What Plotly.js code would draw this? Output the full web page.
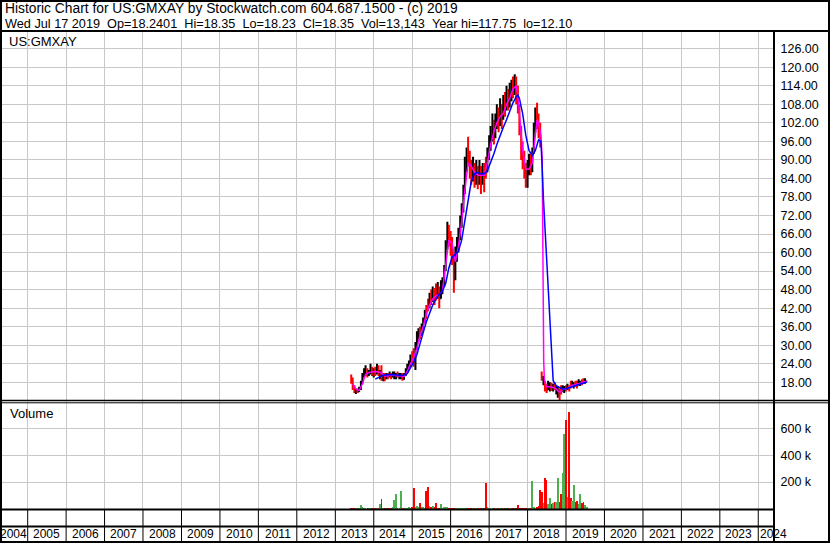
<!DOCTYPE html>
<html>
<head>
<meta charset="utf-8">
<script src="https://cdn.plot.ly/plotly-3.0.1.min.js"></script>
<style>
html,body{margin:0;padding:0;background:#fff;}
#chart{width:830px;height:543px;}
</style>
</head>
<body>
<div id="chart"></div>
<script>
// ---------------- DATA ----------------
const headerLine1 = "Historic Chart for US:GMXAY by Stockwatch.com 604.687.1500 - (c) 2019";
const headerLine2 = "Wed Jul 17 2019\u00a0\u00a0Op=18.2401\u00a0\u00a0Hi=18.35\u00a0\u00a0Lo=18.23\u00a0\u00a0Cl=18.35\u00a0\u00a0Vol=13,143\u00a0\u00a0Year hi=117.75\u00a0\u00a0lo=12.10";
const symbolLabel = "US:GMXAY";
const volumeLabel = "Volume";

const dates = [
 // 2013
 "2013-06-01","2013-06-15","2013-07-01","2013-07-15","2013-08-01","2013-08-15","2013-09-01","2013-09-15","2013-10-01","2013-10-15","2013-11-01","2013-11-15","2013-12-01","2013-12-15",
 // 2014
 "2014-01-01","2014-01-15","2014-02-01","2014-02-15","2014-03-01","2014-03-15","2014-04-01","2014-04-15","2014-05-01","2014-05-15","2014-06-01","2014-06-15","2014-07-01","2014-07-15","2014-08-01","2014-08-15","2014-09-01","2014-09-15","2014-10-01","2014-10-15","2014-11-01","2014-11-15","2014-12-01","2014-12-15",
 // 2015
 "2015-01-01","2015-01-15","2015-02-01","2015-02-15","2015-03-01","2015-03-15","2015-04-01","2015-04-15","2015-05-01","2015-05-15","2015-06-01","2015-06-15","2015-07-01","2015-07-15","2015-08-01","2015-08-15","2015-09-01","2015-09-15","2015-10-01","2015-10-15","2015-11-01","2015-11-15","2015-12-01","2015-12-15",
 // 2016
 "2016-01-01","2016-01-15","2016-02-01","2016-02-15","2016-03-01","2016-03-15","2016-04-01","2016-04-15","2016-05-01","2016-05-15","2016-06-01","2016-06-15","2016-07-01","2016-07-15","2016-08-01","2016-08-15","2016-09-01","2016-09-15","2016-10-01","2016-10-15","2016-11-01","2016-11-15","2016-12-01","2016-12-15",
 // 2017
 "2017-01-01","2017-01-15","2017-02-01","2017-02-15","2017-03-01","2017-03-15","2017-04-01","2017-04-15","2017-05-01","2017-05-15","2017-06-01","2017-06-15","2017-07-01","2017-07-15","2017-08-01","2017-08-15","2017-09-01","2017-09-15","2017-10-01","2017-10-15","2017-11-01","2017-11-15","2017-12-01","2017-12-15",
 // 2018
 "2018-01-01","2018-01-15","2018-02-01","2018-02-15","2018-03-01","2018-03-15","2018-04-01","2018-04-15","2018-05-01","2018-05-15","2018-06-01","2018-06-15","2018-07-01","2018-07-15","2018-08-01","2018-08-15","2018-09-01","2018-09-15","2018-10-01","2018-10-15","2018-11-01","2018-11-15","2018-12-01","2018-12-15",
 // 2019
 "2019-01-01","2019-01-15","2019-02-01","2019-02-15","2019-03-01","2019-03-15","2019-04-01","2019-04-15","2019-05-01","2019-05-15","2019-06-01","2019-06-15","2019-07-01","2019-07-17"
];
const opens = [
 19.5,18.5,16.5,15.3,15.5,15,16,18,20.5,21,22,20.5,21.5,22.5,
 21,21.5,21,23,21,21.5,19.5,20,19.5,20.5,20,20.5,20,19.8,20,20.5,20,19.5,20.2,19.5,20.5,22,23,24,
 26,25.5,24.5,29,32,35,33.5,36,38,41.5,44,42.5,45.5,44.5,47,48.5,47,48.5,45,49,50,55,62,66,
 64,61,58,52,59,63,66,70,74,80,88,91,90,87,86,88,84,87,84,87,83,87,88,86,
 92,96,99,102,98,103,105,102,107,104,108,107,111,108,112,114,113,116,111,107,101,94,90,87,
 84,88,90,87,92,100,105,102,99,21,18,18.5,16.5,15.5,16.5,17,16,16.8,15.5,14,15,15.8,15,15.5,
 16.5,15.8,16.8,17.5,17,16.5,17.8,17.5,17,17.2,18.3,18.8,17.9,18.24
];
const highs = [
 20.5,19.5,17,16,16,16.5,18.5,21,22.5,23.5,22.5,22,24,23,
 22.5,23,24,23.5,22,23.5,21,21,21,21,21.5,21,21.5,21.5,21,21.5,21,21,21,21,22.5,24,25,27,
 28,29,31,34.5,35.5,36,37,39,41.5,43,45,47,48,49,48.5,50,50.5,49,51,52,56,64,70,69,
 67,65,60,62,65,68,72,76,82,91,94,97.5,93,90,91,89,90,88,90,88,89,89,91,94,
 98,101,105,103,105,108,107,110,108,111,112,114,113,115,116,117,117.75,117,114,108,101,96,93,89,
 90,92,92,94,102,107,108.5,105,102,21.5,20,18.5,17.5,18.5,18,17.8,17.5,18,17,16.5,16,17,17,16.8,
 17,17.5,17,18.5,18.5,18,18.5,18.5,19,18.5,19,19.3,19.3,18.35
];
const lows = [
 17.5,15.5,14.5,14.2,14.5,14.8,15.5,17.5,19.5,20,19.5,20,20.5,20,
 19.5,20,20.5,20,19,18.5,18.3,18.3,19,19,19.5,19,19.5,19,19,19.5,19,19,18.5,18.8,20,21,22,23,
 24,23,22,28.5,31,32,33,35,37,38.5,41,42,43,44,43,44.5,45,42,45,46.5,49,54,61,62,
 59,56,47,51,57,60,64,68,73,79,86,88,84,82,83,81,82,80.5,82,79,82,79.5,84,86,
 90,93,96,95,97,100,99,101,100,103,104,106,106,107,109,110,111,108,105,98,90,87,84,81,
 81,85,85,86,92,99,100,97,94,18.5,17,15,14.5,15.5,15,15.2,15,15.5,14,13,12.1,14,15,14.5,
 15,15.5,15,16,16.5,16,16.5,16,17,16.8,17,17.5,17.5,18.23
];
const closes = [
 18.5,16.5,15.5,15.5,15,16,18,20.5,21,22,20.5,21.5,22.5,21,
 21.5,21,23,21,21.5,19.5,20,19.5,20.5,20,20.5,20,21,20.5,20.5,20,20.5,20.2,19.5,20.5,22,23,24,26,
 25.5,24.5,29,32,34.5,33.5,36,38,40,40,42.5,45.5,44.5,47,44.5,47,48.5,45,49,50,55,62,66,64,
 61,58,52,59,63,66,70,74,80,88,91,90,87,86,88,84,87,84,87,83,87,84,86,92,
 96,99,102,98,103,105,102,107,104,108,107,111,108,112,114,113,116,111,107,101,94,90,87,84,
 88,90,87,92,100,105,102,99,97,19.5,18.5,16.5,15.5,17,17,16.2,16.8,16.2,16,15,13.8,15,16.2,16.3,
 15.8,16.8,16,17,17.8,17.5,17.2,17,18.2,17.8,17.9,18.4,18.5,18.35
];
const volumes = [
 8000,10000,6000,5000,6000,8000,32000,12000,9000,6000,5000,5000,7000,6000,
 5000,6000,8000,10000,40000,74000,10000,6000,5000,5000,6000,8000,12000,67000,111000,10000,8000,134000,8000,6000,8000,10000,12000,10000,
 12000,158000,15000,20000,12000,45000,15000,12000,10000,134000,161000,25000,15000,20000,12000,45000,10000,8000,37000,10000,12000,15000,12000,8000,
 6000,8000,10000,6000,5000,6000,5000,7000,6000,8000,6000,10000,6000,5000,5000,6000,5000,6000,5000,8000,6000,10000,191000,12000,
 6000,5000,8000,6000,5000,6000,5000,8000,6000,5000,6000,8000,6000,5000,6000,5000,8000,10000,30000,8000,6000,10000,8000,10000,
 8000,6000,10000,208000,12000,10000,15000,20000,141000,124000,45000,228000,216000,40000,80000,35000,45000,54000,50000,228000,55000,109000,265000,558000,
 662000,92000,719000,82000,60000,178000,50000,59000,40000,111000,45000,50000,30000,13143
];

// short moving average (magenta)
const maShortDates = ["2013-06-15","2013-07-15","2013-08-15","2013-09-15","2013-10-15","2013-11-15","2013-12-15","2014-01-15","2014-02-15","2014-03-15","2014-04-15","2014-05-15","2014-06-15","2014-07-15","2014-08-15","2014-09-15","2014-10-15","2014-11-15","2014-12-15","2015-01-15","2015-02-15","2015-03-15","2015-04-15","2015-05-15","2015-06-15","2015-07-15","2015-08-15","2015-09-15","2015-10-15","2015-11-15","2015-12-15","2016-01-15","2016-02-15","2016-03-15","2016-04-15","2016-05-15","2016-06-15","2016-07-15","2016-08-15","2016-09-15","2016-10-15","2016-11-15","2016-12-15","2017-01-15","2017-02-15","2017-03-15","2017-04-15","2017-05-15","2017-06-15","2017-07-15","2017-08-15","2017-09-15","2017-10-01","2017-10-15","2017-11-01","2017-11-15","2017-12-15","2018-01-15","2018-02-15","2018-03-15","2018-04-01","2018-04-15","2018-05-08","2018-05-20","2018-05-27","2018-06-03","2018-06-10","2018-07-01","2018-08-01","2018-09-01","2018-10-01","2018-10-20","2018-11-10","2018-12-01","2019-01-01","2019-02-01","2019-03-01","2019-04-01","2019-05-01","2019-06-01","2019-07-01","2019-07-17"];
const maShortValues = [17.5,15.8,15.3,17.5,20.5,21.2,21.3,21.5,21.3,21,20,20,20.3,20.2,20.3,20,19.8,21.5,24,26,29,33,36,40,43,45,46,46.5,47.5,55,64,63,57,62,70,80,89,88,86,85,85,85,89,95,99,102,104,105,108,110,113,114,111,105,98,93,87,87,89,99,103,102,98,90,50,25,18.5,16.5,16.5,16.3,15.8,15,14.8,15.7,15.8,16.3,17,17.2,17.6,17.9,18.3,18.4];

// long moving average (blue)
const maLongDates = ["2014-01-15","2014-02-15","2014-04-01","2014-06-01","2014-08-01","2014-10-01","2014-11-15","2014-12-15","2015-01-15","2015-02-15","2015-03-15","2015-04-15","2015-05-15","2015-06-15","2015-07-15","2015-08-15","2015-09-15","2015-10-15","2015-11-15","2015-12-15","2016-01-15","2016-02-15","2016-03-15","2016-04-15","2016-05-15","2016-06-15","2016-07-15","2016-08-15","2016-09-15","2016-10-15","2016-11-15","2016-12-15","2017-01-15","2017-02-15","2017-03-15","2017-04-15","2017-05-15","2017-06-15","2017-07-15","2017-08-15","2017-09-15","2017-10-01","2017-10-15","2017-11-15","2017-12-15","2018-01-15","2018-02-15","2018-03-15","2018-04-15","2018-05-08","2018-05-20","2018-06-01","2018-07-01","2018-07-16","2018-08-01","2018-08-17","2018-09-01","2018-10-01","2018-11-01","2018-12-01","2019-01-01","2019-02-01","2019-03-01","2019-04-01","2019-05-01","2019-06-01","2019-07-17"];
const maLongValues = [19,19.5,20.3,20.5,20.3,20.2,20.8,22.5,24.5,27,30,34,37.5,40.5,43,45,46.5,47.5,50,55,58.5,59.5,60.5,64,70,77,83,85.5,86,85.5,85.5,86.5,89,92,95,98,100.5,103,106,108.5,110.5,111,110,105,98,93,91.5,93,96.5,96,87,77,58,49,38,27.5,18.5,16.8,16.2,15.8,15.9,16.2,16.7,17,17.3,17.6,18.1];

// axis labels
const priceTicks = [18,24,30,36,42,48,54,60,66,72,78,84,90,96,102,108,114,120,126];
const volTicks = [200000,400000,600000];
const volTickText = ["200 k","400 k","600 k"];
const yearLabels = ["2004","2005","2006","2007","2008","2009","2010","2011","2012","2013","2014","2015","2016","2017","2018","2019","2020","2021","2022","2023","2024"];

// ---------------- LAYOUT HELPERS ----------------
const W = 830, H = 543;
const ML = 2, MR = 57, MT = 32, MB = 34;
const PW = W - ML - MR, PH = H - MT - MB;
const px2x = p => (p - ML) / PW;
const py2y = p => (MT + PH - p) / PH;

const FONT = "Liberation Sans, Arial, sans-serif";
const GRID = "#c8c8c8";

const upDown = closes.map((c, i) => c >= opens[i]);
const volColors = upDown.map(u => u ? "#4caf50" : "#ff0000");

const yearStarts = yearLabels.slice(1).map(y => y + "-01-01");

const traces = [
  {
    type: "ohlc", x: dates, open: opens, high: highs, low: lows, close: closes,
    xaxis: "x", yaxis: "y", tickwidth: 0.3, hoverinfo: "skip",
    increasing: {line: {color: "#000000", width: 2}},
    decreasing: {line: {color: "#ff0000", width: 2}}
  },
  {
    type: "scatter", mode: "lines", x: maShortDates, y: maShortValues,
    xaxis: "x", yaxis: "y", line: {color: "#ff00ff", width: 1.5}, hoverinfo: "skip"
  },
  {
    type: "scatter", mode: "lines", x: maLongDates, y: maLongValues,
    xaxis: "x", yaxis: "y", line: {color: "#0000ff", width: 1.5}, hoverinfo: "skip"
  },
  {
    type: "bar", x: dates, y: volumes, xaxis: "x", yaxis: "y2",
    width: 16 * 86400000, marker: {color: volColors, line: {width: 0}}, hoverinfo: "skip"
  }
];

const shapes = [];
const blk = (w) => ({color: "#000", width: w});
// outer frame
shapes.push({type: "rect", xref: "paper", yref: "paper", x0: px2x(1), x1: px2x(829), y0: py2y(1), y1: py2y(542), line: blk(2)});
// header bottom
shapes.push({type: "line", xref: "paper", yref: "paper", x0: px2x(0), x1: px2x(830), y0: py2y(31), y1: py2y(31), line: blk(2)});
// right axis column separator
shapes.push({type: "line", xref: "paper", yref: "paper", x0: px2x(774), x1: px2x(774), y0: py2y(31), y1: py2y(542), line: blk(2)});
// double line between price & volume
shapes.push({type: "line", xref: "paper", yref: "paper", x0: px2x(0), x1: px2x(830), y0: py2y(400.5), y1: py2y(400.5), line: blk(1.5)});
shapes.push({type: "line", xref: "paper", yref: "paper", x0: px2x(0), x1: px2x(830), y0: py2y(402.8), y1: py2y(402.8), line: blk(1)});
// volume bottom, tick row bottom
shapes.push({type: "line", xref: "paper", yref: "paper", x0: px2x(0), x1: px2x(774), y0: py2y(509.5), y1: py2y(509.5), line: blk(2)});
shapes.push({type: "line", xref: "paper", yref: "paper", x0: px2x(0), x1: px2x(774), y0: py2y(526.5), y1: py2y(526.5), line: blk(2)});
// year separators in the axis band
yearStarts.forEach(d => {
  shapes.push({type: "line", xref: "x", yref: "paper", x0: d, x1: d, y0: py2y(509), y1: py2y(541), line: blk(1)});
});

const annotations = [
  {text: headerLine1, xref: "paper", yref: "paper", x: px2x(3), y: py2y(9), xanchor: "left", yanchor: "middle", showarrow: false, font: {family: FONT, size: 13.8, color: "#000"}},
  {text: headerLine2, xref: "paper", yref: "paper", x: px2x(3), y: py2y(24), xanchor: "left", yanchor: "middle", showarrow: false, font: {family: FONT, size: 12.7, color: "#000"}},
  {text: symbolLabel, xref: "paper", yref: "paper", x: px2x(7), y: py2y(41), xanchor: "left", yanchor: "middle", showarrow: false, font: {family: FONT, size: 13, color: "#000"}},
  {text: volumeLabel, xref: "paper", yref: "paper", x: px2x(8), y: py2y(413), xanchor: "left", yanchor: "middle", showarrow: false, font: {family: FONT, size: 13, color: "#000"}}
];
yearLabels.forEach((y, i) => {
  const first = i === 0;
  const last = i === yearLabels.length - 1;
  annotations.push({
    text: y, xref: "x", yref: "paper",
    x: first ? yearLabels[1] + "-01-01" : (last ? y + "-01-01" : y + "-07-02"),
    xanchor: first ? "right" : (last ? "left" : "center"),
    xshift: first ? 1 : 0,
    y: py2y(534), yanchor: "middle", showarrow: false,
    font: {family: FONT, size: 12, color: "#000"}
  });
});

const layout = {
  width: W, height: H,
  margin: {l: ML, r: MR, t: MT, b: MB, pad: 0},
  paper_bgcolor: "#fff", plot_bgcolor: "#fff",
  showlegend: false, bargap: 0,
  font: {family: FONT, size: 12, color: "#000"},
  xaxis: {
    type: "date", range: ["2004-05-02", "2024-05-20"], anchor: "y2",
    rangeslider: {visible: false},
    tickmode: "array", tickvals: yearStarts, showticklabels: false, ticks: "",
    showgrid: true, gridcolor: GRID, gridwidth: 1, zeroline: false, showline: false, fixedrange: true
  },
  yaxis: {
    domain: [py2y(402), 1], range: [11.6, 131.43], side: "right", anchor: "x",
    tickmode: "array", tickvals: priceTicks, ticktext: priceTicks.map(v => v.toFixed(2)),
    ticks: "outside", ticklen: 4, tickcolor: "rgba(0,0,0,0)",
    tickfont: {family: FONT, size: 12.5, color: "#000"},
    showgrid: true, gridcolor: GRID, gridwidth: 1, zeroline: false, showline: false, fixedrange: true
  },
  yaxis2: {
    domain: [0, py2y(403)], range: [0, 788000], side: "right", anchor: "x",
    tickmode: "array", tickvals: volTicks, ticktext: volTickText,
    ticks: "outside", ticklen: 4, tickcolor: "rgba(0,0,0,0)",
    tickfont: {family: FONT, size: 12.5, color: "#000"},
    showgrid: true, gridcolor: GRID, gridwidth: 1, zeroline: false, showline: false, fixedrange: true
  },
  shapes: shapes,
  annotations: annotations
};

Plotly.newPlot("chart", traces, layout, {displayModeBar: false, staticPlot: true});
</script>
</body>
</html>
